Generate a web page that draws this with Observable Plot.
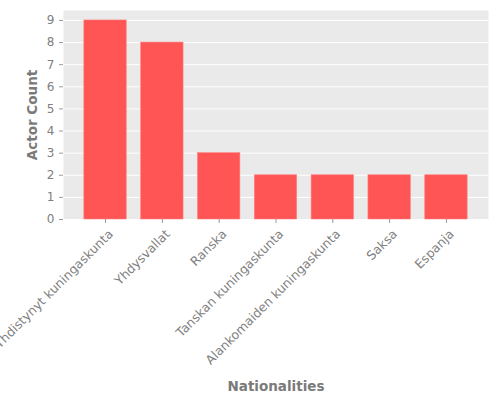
<!DOCTYPE html>
<html>
<head>
<meta charset="utf-8">
<script src="https://cdn.jsdelivr.net/npm/d3@7"></script>
<script src="https://cdn.jsdelivr.net/npm/@observablehq/plot@0.6"></script>
<style>
  body { margin: 0; background: #fff; }
  #chart svg { font-family: "DejaVu Sans", sans-serif; }
</style>
</head>
<body>
<div id="chart"></div>
<script>
const nationalities = ["Yhdistynyt kuningaskunta", "Yhdysvallat", "Ranska", "Tanskan kuningaskunta", "Alankomaiden kuningaskunta", "Saksa", "Espanja"];
const counts = [9, 8, 3, 2, 2, 2, 2];
const yTicks = [0, 1, 2, 3, 4, 5, 6, 7, 8, 9];

const data = nationalities.map((n, i) => ({nat: n, count: counts[i]}));

const chart = Plot.plot({
  width: 500,
  height: 400,
  marginLeft: 63,
  marginRight: 12,
  marginTop: 10,
  marginBottom: 181,
  style: {fontFamily: "DejaVu Sans, sans-serif", background: "#fff"},
  x: {type: "band", domain: nationalities, paddingInner: 0.254, paddingOuter: 0.367, round: false},
  y: {domain: [0, 9.45]},
  marks: [
    Plot.frame({fill: "#EAEAEA", stroke: null}),
    Plot.gridY(yTicks, {stroke: "#fff", strokeOpacity: 1, strokeWidth: 1}),
    Plot.barY(data, {x: "nat", y: "count", fill: "#FF5555", stroke: "#FF8080", strokeWidth: 0.6}),
    Plot.axisY(yTicks, {tickSize: 4, tickPadding: 5, stroke: "#9a9a9a", fill: "#808080", fontSize: 12, label: null}),
    Plot.axisX({tickSize: 4, stroke: "#9a9a9a", tickFormat: () => "", label: null}),
    Plot.text(nationalities, {x: d => d, text: d => d, frameAnchor: "bottom", rotate: -45, textAnchor: "end", lineAnchor: "top", dx: 2, dy: 9, fontSize: 12.5, fill: "#808080"}),
    Plot.text(["Actor Count"], {frameAnchor: "left", text: d => d, rotate: -90, textAnchor: "middle", dx: -31, fontSize: 13.5, fontWeight: "bold", fill: "#7a7a7a"}),
    Plot.text(["Nationalities"], {frameAnchor: "bottom", text: d => d, textAnchor: "middle", dy: 171, fontSize: 13.5, fontWeight: "bold", fill: "#7a7a7a"})
  ]
});
document.getElementById("chart").appendChild(chart);
</script>
</body>
</html>
